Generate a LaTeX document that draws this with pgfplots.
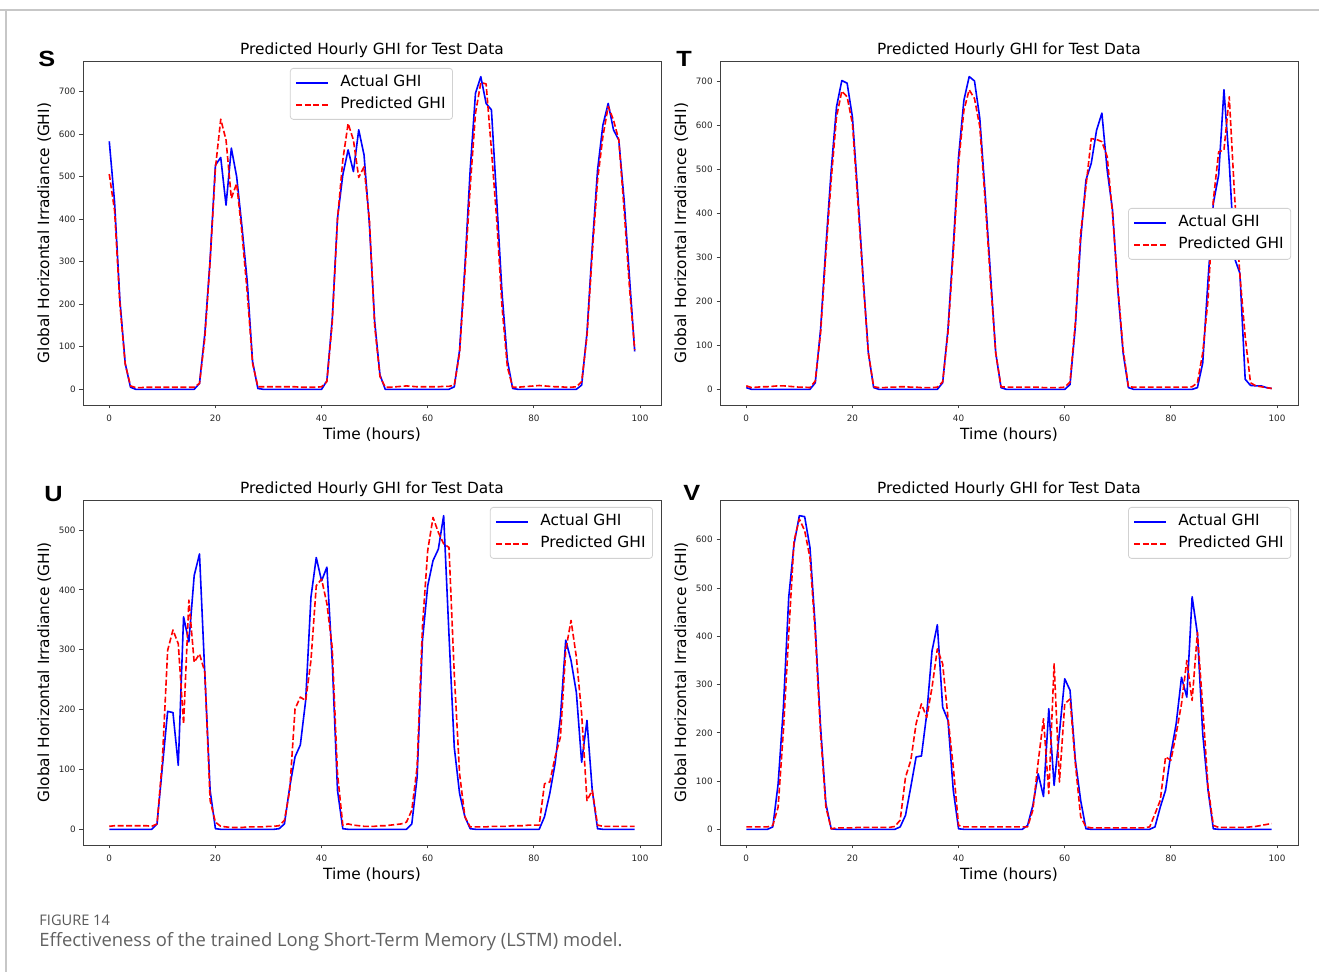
\documentclass[border=0pt]{standalone}
\usepackage{fontspec}
\setmainfont{DejaVu Sans}
\newfontfamily\capfont{Open Sans}
\newfontfamily\lblfont{Liberation Sans}
\usepackage{pgfplots}
\pgfplotsset{compat=1.18}
\usepackage{pgfplotstable}

\newlength\px \setlength\px{0.5pt}

\pgfplotstableread{
h AS PS AT PT AU PU AV PV
0 583 506 4 8 0 5 0 5
1 440 420 0 4 0 6 0 5
2 210 200 0 5 0 6 0 5
3 61 60 0 6 0 6 0 5
4 5 8 0 6 0 6 0 5
5 0 4 0 7 0 6 5 8
6 0 4 0 8 0 6 94 46
7 0 5 0 8 0 6 253 205
8 0 5 0 7 0 5 481 405
9 0 5 0 6 9 9 591 598
10 0 5 0 5 104 115 650 643
11 0 5 0 5 197 299 648 619
12 0 5 0 4 195 333 584 563
13 0 5 15 19 107 310 419 405
14 0 5 136 128 355 176 212 198
15 0 5 325 310 313 383 53 46
16 0 5 498 476 424 279 1 1
17 14 14 642 619 460 293 0 3
18 130 120 702 678 260 263 0 3
19 305 300 696 665 65 48 0 3
20 527 520 619 604 1 12 0 3
21 545 635 446 430 0 5 0 4
22 433 586 257 249 0 4 0 4
23 567 449 83 83 0 3 0 4
24 500 484 4 6 0 3 0 4
25 382 367 0 4 0 3 0 4
26 253 226 0 4 0 4 0 4
27 65 61 0 5 0 4 0 4
28 2 6 0 5 0 4 0 6
29 0 6 0 6 0 4 5 19
30 0 6 0 6 0 5 29 108
31 0 6 0 5 0 5 88 143
32 0 6 0 5 1 6 150 219
33 0 6 0 4 9 15 152 260
34 0 6 0 4 71 65 239 232
35 0 6 0 4 121 201 370 294
36 0 5 0 5 141 221 424 374
37 0 5 15 17 215 215 253 343
38 0 5 136 128 388 282 226 232
39 0 5 325 310 454 407 81 129
40 0 6 529 514 415 418 1 8
41 20 18 657 634 438 377 0 5
42 163 155 711 681 282 304 0 5
43 402 400 701 661 65 93 0 5
44 504 539 616 597 1 7 0 5
45 563 625 446 430 0 9 0 5
46 512 586 264 249 0 7 0 5
47 610 498 83 83 0 6 0 5
48 551 523 4 6 0 5 0 5
49 390 400 0 5 0 5 0 5
50 160 150 0 5 0 5 0 5
51 34 30 0 5 0 6 0 5
52 0 5 0 5 0 6 0 5
53 0 5 0 5 0 7 8 5
54 0 6 0 5 0 8 50 40
55 0 7 0 5 0 9 115 140
56 0 8 0 4 0 12 68 229
57 0 7 0 4 9 32 250 74
58 0 6 0 4 87 104 91 343
59 0 6 0 4 315 338 200 98
60 0 6 0 5 407 466 312 260
61 0 6 11 17 449 521 288 270
62 0 6 143 151 468 496 143 136
63 0 7 340 355 524 477 60 26
64 0 7 476 461 326 471 1 5
65 6 10 514 570 137 260 0 3
66 92 85 589 568 60 93 0 3
67 288 273 628 563 21 21 0 3
68 516 476 498 529 1 4 0 3
69 696 649 408 400 0 4 0 3
70 735 721 227 234 0 4 0 3
71 672 718 83 91 0 4 0 3
72 657 563 4 6 0 5 0 3
73 445 398 0 5 0 5 0 3
74 226 194 0 5 0 5 0 3
75 69 53 0 5 0 5 0 3
76 2 5 0 5 0 6 0 5
77 0 5 0 5 0 6 5 32
78 0 6 0 5 0 6 46 60
79 0 7 0 5 0 7 81 150
80 0 8 0 5 0 7 157 143
81 0 9 0 5 0 7 219 198
82 0 8 0 5 21 76 315 260
83 0 7 0 5 60 79 274 350
84 0 6 0 6 110 121 482 267
85 0 6 4 15 187 154 405 408
86 0 5 60 83 316 299 198 253
87 0 5 249 204 282 349 81 88
88 0 6 423 430 229 288 1 8
89 10 18 487 540 112 193 0 4
90 132 124 681 544 182 48 0 4
91 335 320 514 665 65 65 0 4
92 516 492 298 440 1 7 0 4
93 621 594 264 260 0 5 0 4
94 672 665 23 120 0 5 0 4
95 610 633 9 15 0 5 0 5
96 586 586 8 8 0 5 0 6
97 445 422 8 6 0 5 0 8
98 265 241 4 4 0 5 0 10
99 89 92 2 2 0 5 0 12
}\ghidata

\pgfplotsset{
  ghi/.style={
    scale only axis, width=578\px,
    xmin=-4.95, xmax=103.95, xtick={0,20,...,100},
    tick align=outside, tick pos=left, major tick length=3.5\px,
    axis line style={black!75, line width=0.8\px},
    every tick/.style={black!75, line width=0.8\px},
    /pgf/number format/assume math mode=true,
    tick label style={font=\fontsize{4.4pt}{5pt}\selectfont, text=black!85},
    xticklabel style={anchor=north, inner sep=0pt, yshift=-6\px},
    yticklabel style={anchor=east, inner sep=0pt, xshift=-3.5\px},
    title={Predicted Hourly GHI for Test Data},
    xlabel={Time (hours)},
    ylabel={Global Horizontal Irradiance (GHI)},
    every axis title/.style={at={([yshift=6\px]axis description cs:0.5,1)}, anchor=base, font=\fontsize{7.7pt}{9pt}\selectfont},
    every axis x label/.style={at={([yshift=-35\px]axis description cs:0.5,0)}, anchor=base, font=\fontsize{7.7pt}{9pt}\selectfont},
    every axis y label/.style={at={([xshift=-34\px]axis description cs:0,0.5)}, rotate=90, anchor=base, font=\fontsize{7.7pt}{9pt}\selectfont},
    legend image code/.code={\path[draw=none] (-3\px,0pt) -- (40\px,0pt); \draw[#1] (0pt,0pt) -- (32\px,0pt);},
    legend cell align=left,
    legend style={anchor=north west, draw=black!18, line width=0.8\px,
      rounded corners=3\px, fill=white,
      font=\fontsize{7.7pt}{9pt}\selectfont, inner xsep=3\px, inner ysep=5.5\px,
      row sep=4\px,
      nodes={inner xsep=4\px, inner ysep=2\px, text height=11\px, text depth=3\px}},
  },
  act/.style={color=blue, line width=1.6\px, line join=round},
  pre/.style={color=red, line width=1.6\px, line join=round, dash pattern=on 5.9\px off 2.6\px},
}

\begin{document}
\begin{tikzpicture}
\useasboundingbox (0,0) rectangle (1319\px,972\px);
\draw[black!22, line width=1.2\px] (0,962\px) -- (1319\px,962\px);
\draw[black!22, line width=1.2\px] (6\px,962\px) -- (6\px,0);

% S
\begin{axis}[ghi, at={(83\px,567\px)}, anchor=south west, height=344\px,
  ymin=-36.8, ymax=771.8, ytick={0,100,...,700},
  legend style={at={(axis description cs:0.358,0.9797)}}]
\addplot[act] table[x=h,y=AS] {\ghidata};
\addlegendentry{Actual GHI}
\addplot[pre] table[x=h,y=PS] {\ghidata};
\addlegendentry{Predicted GHI}
\end{axis}

% T
\begin{axis}[ghi, at={(720\px,567\px)}, anchor=south west, height=344\px,
  ymin=-35.5, ymax=746.5, ytick={0,100,...,700},
  legend style={at={(axis description cs:0.706,0.5727)}}]
\addplot[act] table[x=h,y=AT] {\ghidata};
\addlegendentry{Actual GHI}
\addplot[pre] table[x=h,y=PT] {\ghidata};
\addlegendentry{Predicted GHI}
\end{axis}

% U
\begin{axis}[ghi, at={(83\px,127\px)}, anchor=south west, height=345\px,
  ymin=-26.2, ymax=550.2, ytick={0,100,...,500},
  legend style={at={(axis description cs:0.704,0.9797)}}]
\addplot[act] table[x=h,y=AU] {\ghidata};
\addlegendentry{Actual GHI}
\addplot[pre] table[x=h,y=PU] {\ghidata};
\addlegendentry{Predicted GHI}
\end{axis}

% V
\begin{axis}[ghi, at={(720\px,127\px)}, anchor=south west, height=345\px,
  ymin=-32.5, ymax=682.5, ytick={0,100,...,600},
  legend style={at={(axis description cs:0.706,0.9797)}}]
\addplot[act] table[x=h,y=AV] {\ghidata};
\addlegendentry{Actual GHI}
\addplot[pre] table[x=h,y=PV] {\ghidata};
\addlegendentry{Predicted GHI}
\end{axis}

% panel letters
\node[anchor=base west, inner sep=0pt, xscale=1.15] at (38\px,905\px) {\lblfont\bfseries\fontsize{11pt}{12pt}\selectfont S};
\node[anchor=base west, inner sep=0pt, xscale=1.15] at (676\px,905\px) {\lblfont\bfseries\fontsize{11pt}{12pt}\selectfont T};
\node[anchor=base west, inner sep=0pt, xscale=1.15] at (44\px,470\px) {\lblfont\bfseries\fontsize{11pt}{12pt}\selectfont U};
\node[anchor=base west, inner sep=0pt, xscale=1.15] at (683\px,471\px) {\lblfont\bfseries\fontsize{11pt}{12pt}\selectfont V};

% caption
\node[anchor=base west, inner sep=0pt, text=black!65] at (39\px,46\px) {\capfont\fontsize{7.3pt}{8pt}\selectfont FIGURE 14};
\node[anchor=base west, inner sep=0pt, text=black!62] at (39\px,25\px) {\capfont\fontsize{9.2pt}{10pt}\selectfont Effectiveness of the trained Long Short-Term Memory (LSTM) model.};
\end{tikzpicture}
\end{document}
